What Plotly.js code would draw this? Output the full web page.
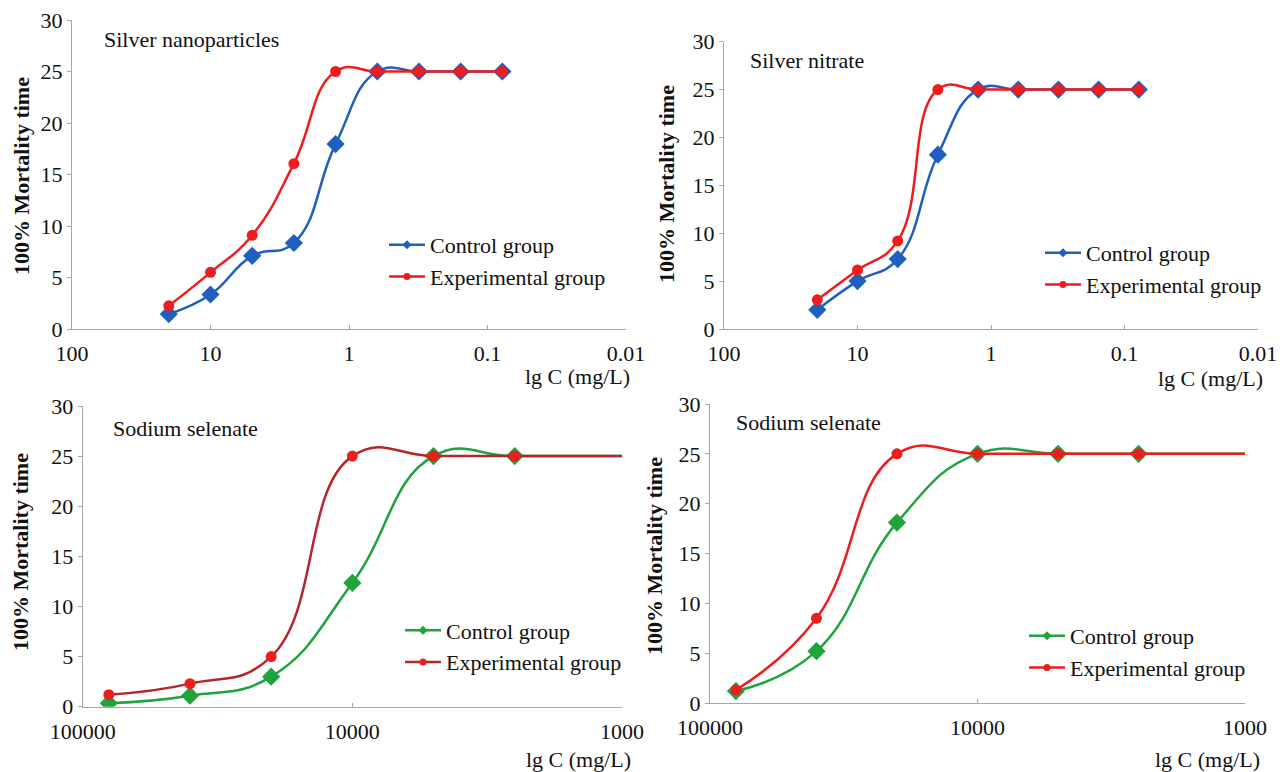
<!DOCTYPE html>
<html>
<head>
<meta charset="utf-8">
<script src="https://cdn.plot.ly/plotly-3.0.1.min.js"></script>
<style>
html,body{margin:0;padding:0;background:#fff;font-family:'Liberation Serif',serif;}
#chart{width:1283px;height:772px;}
</style>
</head>
<body>
<div id="chart"></div>
<script>
// ---------- data ----------
const seriesNames = ['Control group', 'Experimental group'];
const panelTitles = ['Silver nanoparticles', 'Silver nitrate', 'Sodium selenate', 'Sodium selenate'];
const xTitle = 'lg C (mg/L)';
const yTitle = '100% Mortality time';

// silver panels: concentrations (mg/L)
const xAg = [20, 10, 5, 2.5, 1.25, 0.625, 0.3125, 0.15625, 0.078125];
const agNanoControl = [1.45, 3.35, 7.1, 8.35, 17.95, 25, 25, 25, 25];
const agNanoExp     = [2.25, 5.5, 9.1, 16.05, 25, 25, 25, 25, 25];
const agNitrControl = [2.0, 5.0, 7.3, 18.2, 25, 25, 25, 25, 25];
const agNitrExp     = [3.05, 6.15, 9.2, 25, 25, 25, 25, 25, 25];

// selenate panels: concentrations (mg/L); last point carries the line to the axis end
const xSe = [80000, 40000, 20000, 10000, 5000, 2500, 1000];
const se1Control = [0.35, 1.1, 3.0, 12.35, 25, 25, 25];
const se1Exp     = [1.2, 2.3, 5.0, 25, 25, 25, 25];
const se2Control = [1.2, 5.2, 18.1, 25, 25, 25, 25];
const se2Exp     = [1.3, 8.5, 25, 25, 25, 25, 25];

const agTickVals = [100, 10, 1, 0.1, 0.01];
const agTickText = ['100', '10', '1', '0.1', '0.01'];
const seTickVals = [100000, 10000, 1000];
const seTickText = ['100000', '10000', '1000'];

// ---------- styling ----------
const FONT = 'Liberation Serif, DejaVu Serif, serif';
const BLUE = '#1f5fc0', RED = '#ee1c1c', GREEN = '#1fa33c', DARKRED = '#b3262a';
const AX = '#a6a6a6';
const W = 1283, H = 772;
const px = v => v / W, py = v => 1 - v / H;

// plot areas in pixels [x0, x1, yTop, yBottom]
const boxes = [
  [72, 626, 20, 329],
  [724, 1258, 41.7, 329],
  [82.7, 622, 406, 706.7],
  [710, 1245, 404, 703]
];

function mainTrace(x, y, axIdx, color, lineColor, symbol, size, hideLast) {
  const sizes = x.map((v, i) => (hideLast && i === x.length - 1) ? 0 : size);
  return {
    x: x, y: y, type: 'scatter', mode: 'lines+markers',
    xaxis: 'x' + (axIdx === 1 ? '' : axIdx), yaxis: 'y' + (axIdx === 1 ? '' : axIdx),
    line: {color: lineColor, width: 2.5, shape: 'spline', smoothing: 1.3},
    marker: {color: color, symbol: symbol, size: sizes, opacity: 1, line: {width: 0}},
    showlegend: false, hoverinfo: 'x+y', cliponaxis: true
  };
}
function legendTrace(name, axIdx, color, lineColor, symbol, legendId) {
  return {
    x: [null], y: [null], type: 'scatter', mode: 'lines+markers', name: name,
    xaxis: 'x' + (axIdx === 1 ? '' : axIdx), yaxis: 'y' + (axIdx === 1 ? '' : axIdx),
    line: {color: lineColor, width: 2.5},
    marker: {color: color, symbol: symbol, size: 7, opacity: 1},
    showlegend: true, legend: legendId
  };
}

const data = [
  mainTrace(xAg, agNanoControl, 1, BLUE, BLUE, 'diamond', 14, false),
  mainTrace(xAg, agNanoExp, 1, RED, RED, 'circle', 11, false),
  mainTrace(xAg, agNitrControl, 2, BLUE, BLUE, 'diamond', 14, false),
  mainTrace(xAg, agNitrExp, 2, RED, RED, 'circle', 11, false),
  mainTrace(xSe, se1Control, 3, GREEN, GREEN, 'diamond', 14, true),
  mainTrace(xSe, se1Exp, 3, RED, DARKRED, 'circle', 11, true),
  mainTrace(xSe, se2Control, 4, GREEN, GREEN, 'diamond', 14, true),
  mainTrace(xSe, se2Exp, 4, RED, RED, 'circle', 11, true),
  legendTrace(seriesNames[0], 1, BLUE, BLUE, 'diamond', 'legend'),
  legendTrace(seriesNames[1], 1, RED, RED, 'circle', 'legend'),
  legendTrace(seriesNames[0], 2, BLUE, BLUE, 'diamond', 'legend2'),
  legendTrace(seriesNames[1], 2, RED, RED, 'circle', 'legend2'),
  legendTrace(seriesNames[0], 3, GREEN, GREEN, 'diamond', 'legend3'),
  legendTrace(seriesNames[1], 3, RED, DARKRED, 'circle', 'legend3'),
  legendTrace(seriesNames[0], 4, GREEN, GREEN, 'diamond', 'legend4'),
  legendTrace(seriesNames[1], 4, RED, RED, 'circle', 'legend4')
];

function xAxis(i, isAg) {
  const b = boxes[i];
  return {
    type: 'log', domain: [px(b[0]), px(b[1])],
    range: isAg ? [2, -2] : [5, 3],
    tickvals: isAg ? agTickVals : seTickVals,
    ticktext: isAg ? agTickText : seTickText,
    anchor: 'y' + (i === 0 ? '' : i + 1),
    showline: true, linecolor: AX, linewidth: 1,
    ticks: 'inside', ticklen: 4, tickcolor: AX, tickwidth: 1,
    showgrid: false, zeroline: false, ticklabelstandoff: 5,
    tickfont: {family: FONT, size: 22, color: '#111'}
  };
}
function yAxis(i) {
  const b = boxes[i];
  return {
    domain: [py(b[3]), py(b[2])], range: [0, 30], dtick: 5,
    anchor: 'x' + (i === 0 ? '' : i + 1),
    showline: true, linecolor: AX, linewidth: 1,
    ticks: 'outside', ticklen: 4, tickcolor: AX, tickwidth: 1,
    showgrid: false, zeroline: false,
    tickfont: {family: FONT, size: 22, color: '#111'}
  };
}

function legendAt(x, y) {
  return {x: px(x), y: py(y), xanchor: 'left', yanchor: 'top',
    bgcolor: 'rgba(0,0,0,0)', borderwidth: 0, tracegroupgap: 0, itemwidth: 36,
    font: {family: FONT, size: 22, color: '#111'}};
}

const annotations = [];
// panel titles
const titlePos = [[102, 40], [748, 60], [111, 428], [734, 423]];
panelTitles.forEach((t, i) => annotations.push({
  text: t, xref: 'paper', yref: 'paper', x: px(titlePos[i][0]), y: py(titlePos[i][1]),
  xanchor: 'left', yanchor: 'middle', showarrow: false,
  font: {family: FONT, size: 22, color: '#111'}
}));
// x titles
const xtPos = [[632, 377], [1265, 378], [633, 759], [1262, 759]];
xtPos.forEach(p => annotations.push({
  text: xTitle, xref: 'paper', yref: 'paper', x: px(p[0]), y: py(p[1]),
  xanchor: 'right', yanchor: 'middle', showarrow: false,
  font: {family: FONT, size: 22, color: '#111'}
}));
// y titles
const ytPos = [[21, 176], [667, 184], [20, 552], [654, 556]];
ytPos.forEach(p => annotations.push({
  text: '<b>' + yTitle + '</b>', xref: 'paper', yref: 'paper', x: px(p[0]), y: py(p[1]),
  xanchor: 'center', yanchor: 'middle', textangle: -90, showarrow: false,
  font: {family: FONT, size: 22, color: '#111'}
}));

const layout = {
  width: W, height: H, margin: {l: 0, r: 0, t: 0, b: 0},
  paper_bgcolor: '#fff', plot_bgcolor: '#fff',
  font: {family: FONT, color: '#111'},
  xaxis: xAxis(0, true), yaxis: yAxis(0),
  xaxis2: xAxis(1, true), yaxis2: yAxis(1),
  xaxis3: xAxis(2, false), yaxis3: yAxis(2),
  xaxis4: xAxis(3, false), yaxis4: yAxis(3),
  legend: legendAt(384, 224),
  legend2: legendAt(1040, 232),
  legend3: legendAt(400, 609.5),
  legend4: legendAt(1024, 615),
  annotations: annotations
};

Plotly.newPlot('chart', data, layout, {displayModeBar: false, staticPlot: true});
</script>
</body>
</html>
